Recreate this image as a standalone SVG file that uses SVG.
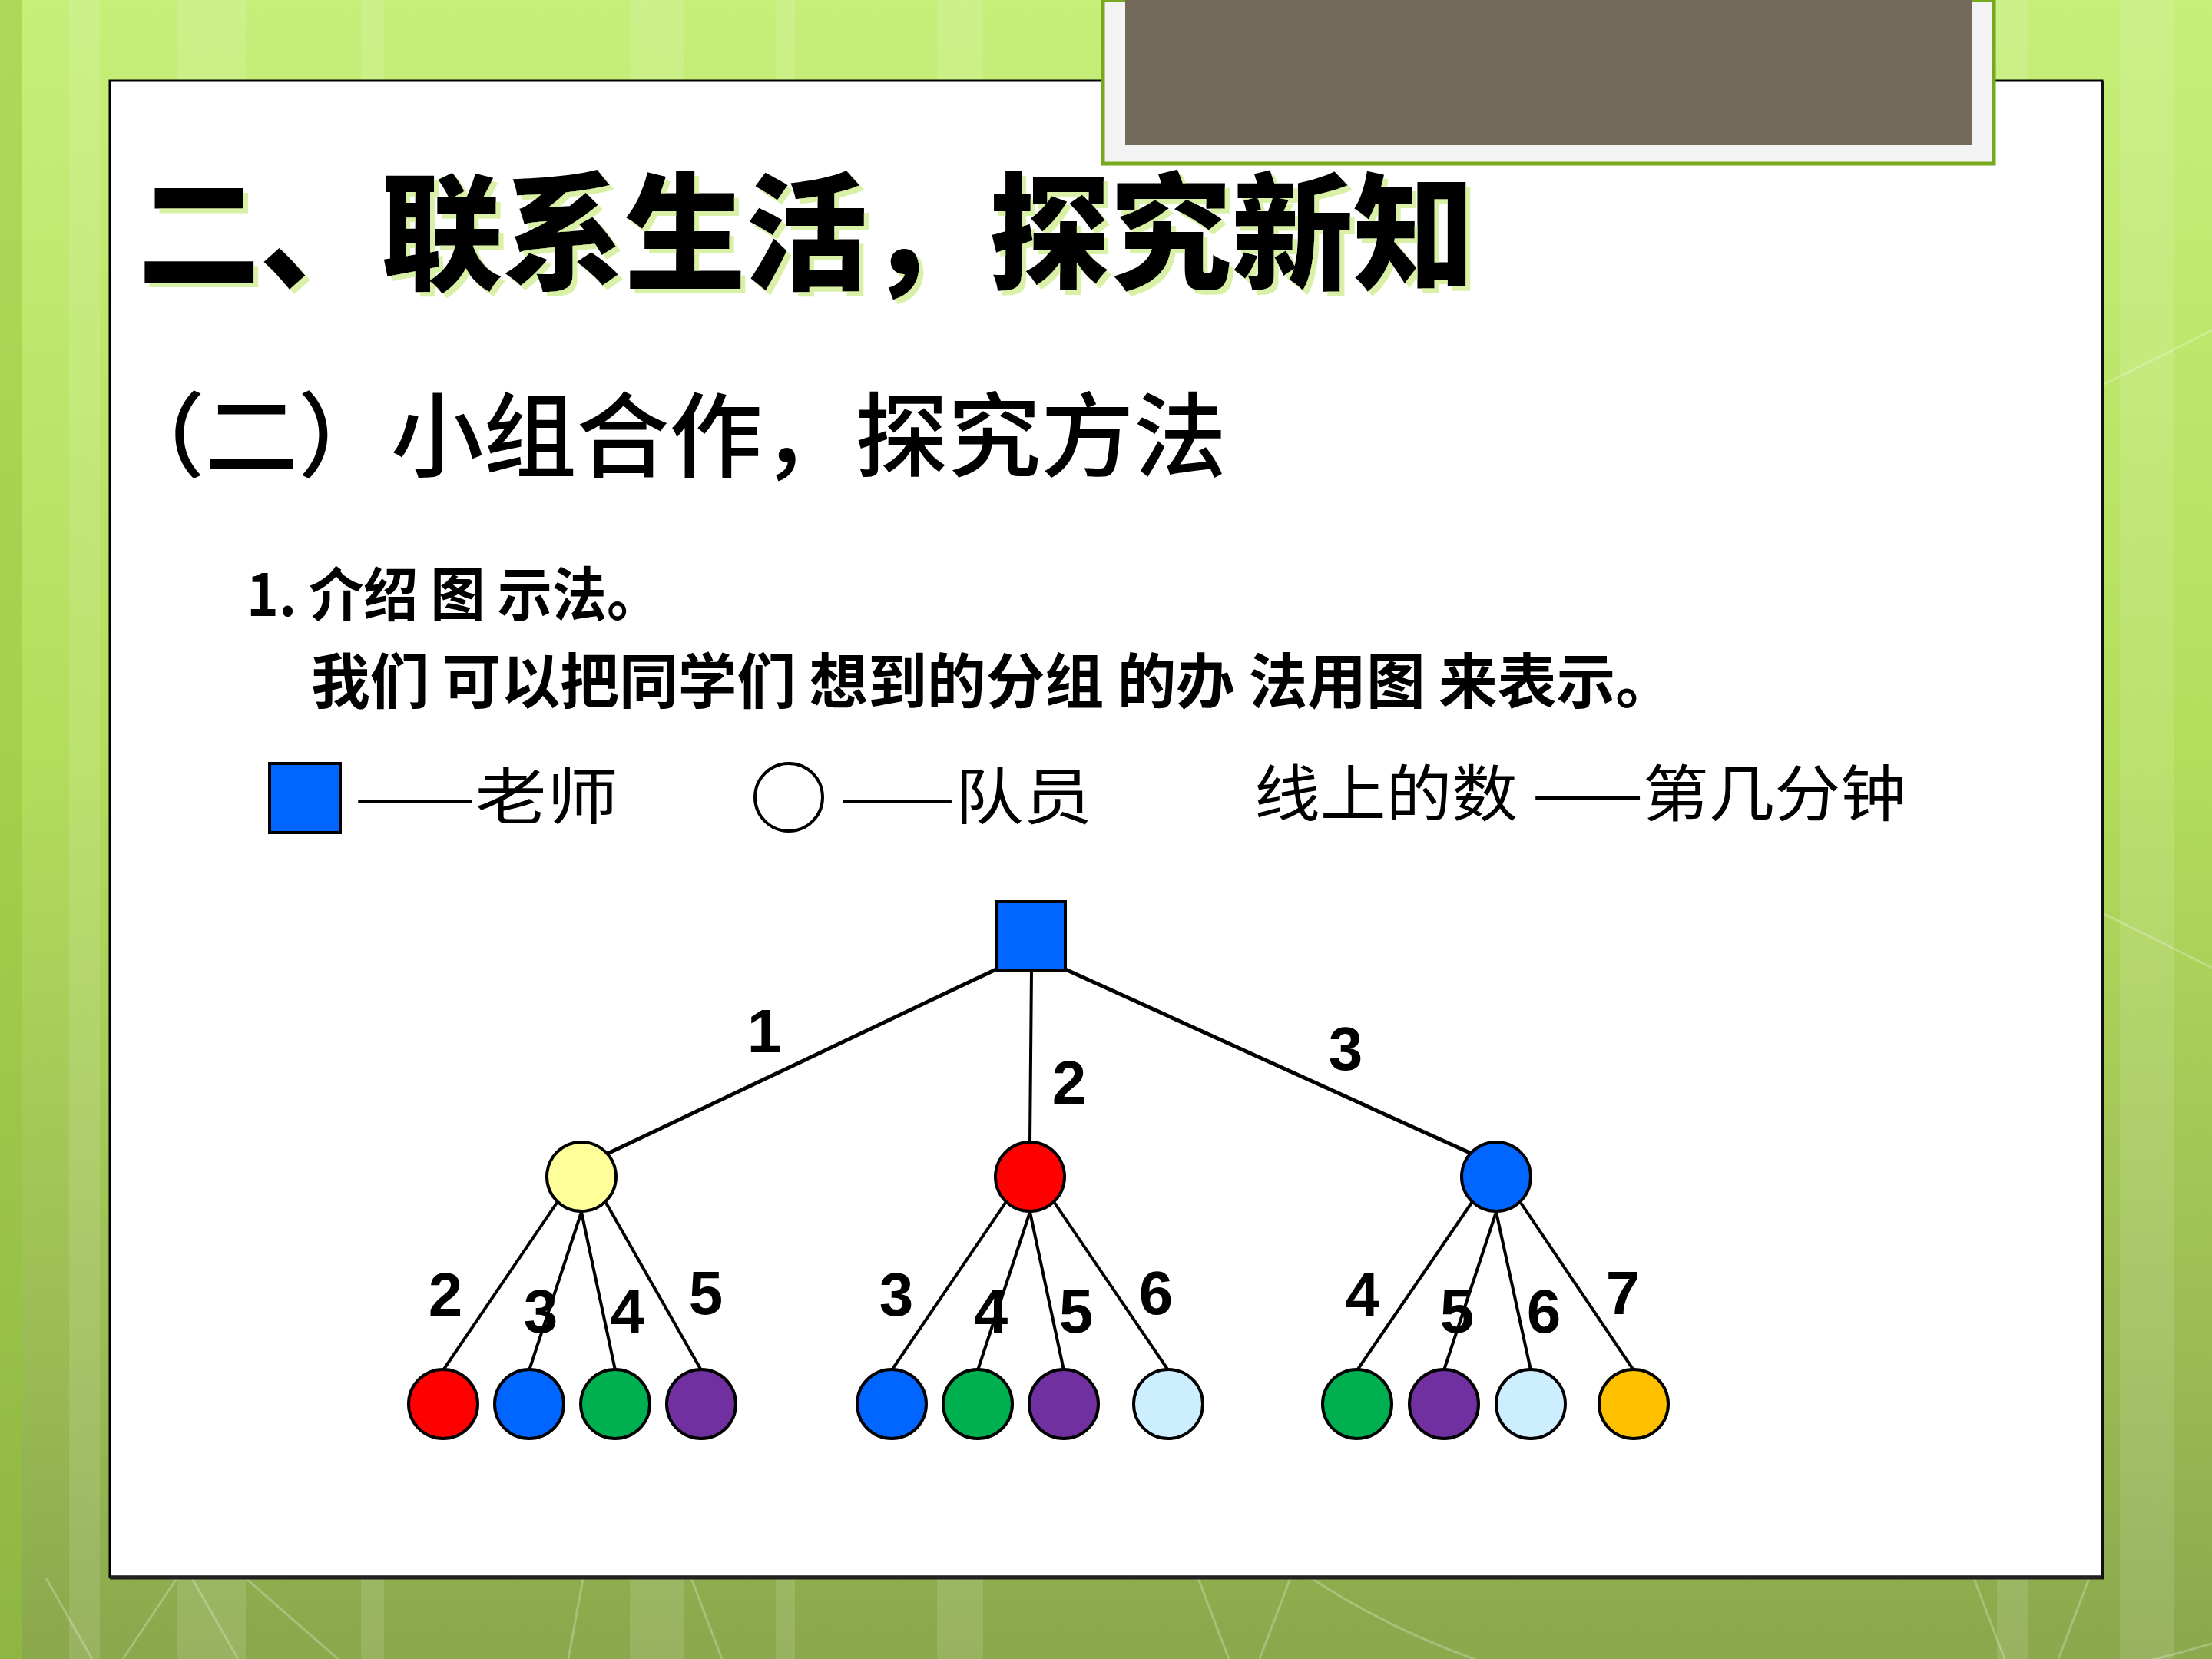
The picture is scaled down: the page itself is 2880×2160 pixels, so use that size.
<svg xmlns="http://www.w3.org/2000/svg" width="2880" height="2160" viewBox="0 0 2880 2160">
<defs>
<linearGradient id="bg" x1="0" y1="0" x2="0" y2="1">
<stop offset="0" stop-color="#c6ef7a"/>
<stop offset="0.45" stop-color="#b3de5c"/>
<stop offset="0.8" stop-color="#9cbd55"/>
<stop offset="1" stop-color="#8aa84c"/>
</linearGradient>
<filter id="shadow" x="-5%" y="-10%" width="110%" height="130%">
<feFlood flood-color="#d8f1a6" result="c"/>
<feComposite in="c" in2="SourceAlpha" operator="in" result="s"/>
<feOffset in="s" dx="6" dy="6" result="o"/>
<feMerge><feMergeNode in="o"/><feMergeNode in="SourceGraphic"/></feMerge>
</filter>
<style>
.cjk{font-family:"Noto Sans CJK SC","Noto Sans",sans-serif}
.num{font-family:"Liberation Sans",Arial,sans-serif;font-weight:bold;font-size:80px;text-anchor:middle;fill:#000}
.edge{stroke:#000;stroke-width:5;fill:none}
.edge2{stroke:#000;stroke-width:4;fill:none}
.node{stroke:#000;stroke-width:4}
.stripe{fill:#ffffff;opacity:0.12}
.bgline{stroke:#ffffff;stroke-opacity:0.25;stroke-width:3;fill:none}
</style>
</defs>
<!-- background -->
<rect x="0" y="0" width="2880" height="2160" fill="url(#bg)"/>
<rect x="0" y="0" width="28" height="2160" fill="#94c43a" opacity="0.5"/>
<rect class="stripe" x="90" y="0" width="40" height="2160"/>
<rect class="stripe" x="230" y="0" width="90" height="2160"/>
<rect class="stripe" x="470" y="0" width="30" height="2160"/>
<rect class="stripe" x="820" y="0" width="70" height="2160"/>
<rect class="stripe" x="1010" y="0" width="25" height="2160"/>
<rect class="stripe" x="1220" y="0" width="60" height="2160"/>
<rect class="stripe" x="2600" y="0" width="40" height="2160"/>
<rect class="stripe" x="2760" y="0" width="70" height="2160"/>
<path class="bgline" d="M60 2055 L120 2160 M160 2160 L230 2055 M250 2055 L310 2160 M320 2055 L440 2160 M740 2160 L760 2050 M900 2055 L940 2160 M1560 2055 L1600 2160 M1640 2160 L1680 2055 M2570 2055 L2610 2160 M2680 2160 L2720 2055"/>
<path class="bgline" d="M1700 2050 Q2150 2350 2880 2140"/>
<path class="bgline" d="M2740 500 L2880 430 M2740 1190 L2880 1260"/>
<!-- white panel -->
<rect x="143" y="105" width="2594" height="1948" fill="#ffffff" stroke="#000" stroke-width="3"/>
<line x1="143" y1="2054" x2="2739" y2="2054" stroke="#222" stroke-width="5"/>
<line x1="2738" y1="105" x2="2738" y2="2056" stroke="#111" stroke-width="4"/>
<!-- photo frame -->
<g id="photo">
<rect x="1436" y="0" width="1160" height="213" fill="#f3f3f3" stroke="#78a91c" stroke-width="5"/>
<rect x="1465" y="0" width="1103" height="189" fill="#746a5c"/>
</g>
<!-- titles -->
<g id="title">
<text class="cjk" x="180" y="364" font-size="165" font-weight="900" fill="#000" filter="url(#shadow)" textLength="1740" lengthAdjust="spacingAndGlyphs">二、联系生活，探究新知</text>
</g>
<g id="subtitle">
<text class="cjk" x="146" y="612" font-size="120" font-weight="500" fill="#000" textLength="1451" lengthAdjust="spacingAndGlyphs">（二）小组合作，探究方法</text>
</g>
<g id="intro">
<text class="cjk" x="321" y="802" font-size="76" font-weight="bold" fill="#000" textLength="540" lengthAdjust="spacingAndGlyphs">1. 介绍 图 示法。</text>
<text class="cjk" x="405" y="916" font-size="78" font-weight="bold" fill="#000" textLength="1775" lengthAdjust="spacingAndGlyphs">我们 可以把同学们 想到的分组 的办 法用图 来表示。</text>
</g>
<!-- legend -->
<g id="legend-teacher">
<rect x="351" y="994" width="92" height="90" fill="#0066ff" stroke="#000" stroke-width="4"/>
<text class="cjk" x="462" y="1066" font-size="80" fill="#000" textLength="343" lengthAdjust="spacingAndGlyphs">——老师</text>
</g>
<g id="legend-member">
<circle cx="1027" cy="1038" r="44" fill="#ffffff" stroke="#000" stroke-width="4"/>
<text class="cjk" x="1093" y="1066" font-size="80" fill="#000" textLength="329" lengthAdjust="spacingAndGlyphs">——队员</text>
</g>
<g id="legend-number">
<text class="cjk" x="1633" y="1062" font-size="80" fill="#000" textLength="849" lengthAdjust="spacingAndGlyphs">线上的数 ——第几分钟</text>
</g>
<!-- connectors -->
<g id="connectors">
<line class="edge" x1="1297" y1="1262" x2="791" y2="1502"/>
<line class="edge2" x1="1343" y1="1264" x2="1341" y2="1488"/>
<line class="edge" x1="1387" y1="1262" x2="1916" y2="1502"/>
<line class="edge2" x1="725" y1="1566" x2="577" y2="1784"/>
<line class="edge2" x1="757" y1="1578" x2="689" y2="1784"/>
<line class="edge2" x1="757" y1="1578" x2="801" y2="1784"/>
<line class="edge2" x1="789" y1="1566" x2="913" y2="1784"/>
<line class="edge2" x1="1309" y1="1566" x2="1161" y2="1784"/>
<line class="edge2" x1="1341" y1="1578" x2="1273" y2="1784"/>
<line class="edge2" x1="1341" y1="1578" x2="1385" y2="1784"/>
<line class="edge2" x1="1373" y1="1566" x2="1521" y2="1784"/>
<line class="edge2" x1="1916" y1="1566" x2="1767" y2="1784"/>
<line class="edge2" x1="1948" y1="1578" x2="1880" y2="1784"/>
<line class="edge2" x1="1948" y1="1578" x2="1993" y2="1784"/>
<line class="edge2" x1="1980" y1="1566" x2="2127" y2="1784"/>
</g>
<!-- edge labels -->
<g id="labels">
<text class="num" x="995" y="1370">1</text>
<text class="num" x="1392" y="1437">2</text>
<text class="num" x="1752" y="1393">3</text>
<text class="num" x="580" y="1713">2</text>
<text class="num" x="704" y="1735">3</text>
<text class="num" x="817" y="1735">4</text>
<text class="num" x="919" y="1711">5</text>
<text class="num" x="1167" y="1713">3</text>
<text class="num" x="1290" y="1735">4</text>
<text class="num" x="1401" y="1735">5</text>
<text class="num" x="1505" y="1711">6</text>
<text class="num" x="1774" y="1713">4</text>
<text class="num" x="1897" y="1735">5</text>
<text class="num" x="2010" y="1735">6</text>
<text class="num" x="2113" y="1711">7</text>
</g>
<!-- nodes -->
<g id="root"><rect class="node" x="1297" y="1174" width="90" height="89" fill="#0066ff"/></g>
<g id="a"><circle class="node" cx="757" cy="1532" r="45" fill="#ffff99"/></g>
<g id="b"><circle class="node" cx="1341" cy="1532" r="45" fill="#ff0000"/></g>
<g id="c"><circle class="node" cx="1948" cy="1532" r="45" fill="#0066ff"/></g>
<g id="a1"><circle class="node" cx="577" cy="1828" r="45" fill="#ff0000"/></g>
<g id="a2"><circle class="node" cx="689" cy="1828" r="45" fill="#0066ff"/></g>
<g id="a3"><circle class="node" cx="801" cy="1828" r="45" fill="#00b050"/></g>
<g id="a4"><circle class="node" cx="913" cy="1828" r="45" fill="#7030a0"/></g>
<g id="b1"><circle class="node" cx="1161" cy="1828" r="45" fill="#0066ff"/></g>
<g id="b2"><circle class="node" cx="1273" cy="1828" r="45" fill="#00b050"/></g>
<g id="b3"><circle class="node" cx="1385" cy="1828" r="45" fill="#7030a0"/></g>
<g id="b4"><circle class="node" cx="1521" cy="1828" r="45" fill="#cceeff"/></g>
<g id="c1"><circle class="node" cx="1767" cy="1828" r="45" fill="#00b050"/></g>
<g id="c2"><circle class="node" cx="1880" cy="1828" r="45" fill="#7030a0"/></g>
<g id="c3"><circle class="node" cx="1993" cy="1828" r="45" fill="#cceeff"/></g>
<g id="c4"><circle class="node" cx="2127" cy="1828" r="45" fill="#ffc000"/></g>
</svg>
